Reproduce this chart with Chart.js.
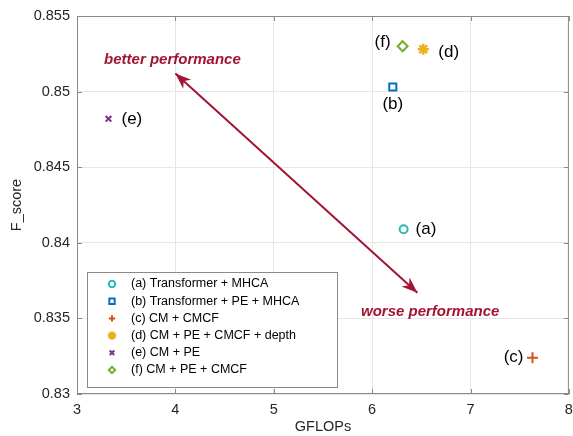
<!DOCTYPE html>
<html>
<head>
<meta charset="utf-8">
<script src="https://cdn.jsdelivr.net/npm/chart.js@4"></script>
<style>
  html, body { margin: 0; padding: 0; background: #fff; overflow: hidden; }
  #wrap { width: 577px; height: 436px; }
</style>
</head>
<body>
<div id="wrap"><canvas id="grafico"></canvas></div>
<script>
// data
const tags = ['(a)', '(b)', '(c)', '(d)', '(e)', '(f)'];
const names = [
  '(a) Transformer + MHCA',
  '(b) Transformer + PE + MHCA',
  '(c) CM + CMCF',
  '(d) CM + PE + CMCF + depth',
  '(e) CM + PE',
  '(f) CM + PE + CMCF'
];
const gflops = [6.32, 6.21, 7.63, 6.52, 3.32, 6.31];
const fscore = [0.8409, 0.8503, 0.8324, 0.8528, 0.8482, 0.8530];
const xTicks = [3, 4, 5, 6, 7, 8];
const yTicks = [0.83, 0.835, 0.84, 0.845, 0.85, 0.855];

const colors = ['#2bbab2', '#0072BD', '#D95319', '#EDB120', '#7E2F8E', '#77AC30'];
const styles = ['circle', 'rect', 'cross', 'star', 'crossRot', 'rectRot'];
const sizes = [4, 5, 5.5, 5.5, 4, 5];
const FONT = '"Liberation Sans", Arial, Helvetica, sans-serif';
const RED = '#A2142F';

// label placement next to each point: [dx, dy, align]
const tagPos = [[12, 0, 'left'], [0, 17, 'center'], [-9, 0, 'right'], [15, 3, 'left'], [13, 0, 'left'], [-12, -4, 'right']];

const extras = {
  id: 'extras',
  afterDatasetsDraw(chart) {
    const ctx = chart.ctx;
    const a = chart.chartArea;
    const xs = chart.scales.x, ys = chart.scales.y;
    ctx.save();
    // box + inward ticks
    ctx.strokeStyle = '#8a8a8a';
    ctx.lineWidth = 1;
    ctx.strokeRect(a.left + 0.5, a.top + 0.5, a.right - a.left - 1, a.bottom - a.top - 1);
    ctx.beginPath();
    xTicks.forEach(v => {
      const p = Math.round(xs.getPixelForValue(v)) + 0.5;
      ctx.moveTo(p, a.bottom); ctx.lineTo(p, a.bottom - 5);
      ctx.moveTo(p, a.top); ctx.lineTo(p, a.top + 5);
    });
    yTicks.forEach(v => {
      const p = Math.round(ys.getPixelForValue(v)) + 0.5;
      ctx.moveTo(a.left, p); ctx.lineTo(a.left + 5, p);
      ctx.moveTo(a.right, p); ctx.lineTo(a.right - 5, p);
    });
    ctx.stroke();

    // point labels
    ctx.fillStyle = '#000';
    ctx.font = '17px ' + FONT;
    ctx.textBaseline = 'middle';
    tags.forEach((t, i) => {
      const px = xs.getPixelForValue(gflops[i]);
      const py = ys.getPixelForValue(fscore[i]);
      ctx.textAlign = tagPos[i][2];
      ctx.fillText(t, px + tagPos[i][0], py + tagPos[i][1]);
    });

    // double arrow
    const x1 = xs.getPixelForValue(4.0), y1 = ys.getPixelForValue(0.8512);
    const x2 = xs.getPixelForValue(6.46), y2 = ys.getPixelForValue(0.8367);
    ctx.strokeStyle = RED;
    ctx.fillStyle = RED;
    ctx.lineWidth = 2;
    ctx.beginPath(); ctx.moveTo(x1, y1); ctx.lineTo(x2, y2); ctx.stroke();
    function head(tx, ty, fx, fy) {
      const ang = Math.atan2(ty - fy, tx - fx);
      const L = 16, W = 6;
      ctx.save();
      ctx.translate(tx, ty); ctx.rotate(ang);
      ctx.beginPath();
      ctx.moveTo(0, 0);
      ctx.lineTo(-L, -W);
      ctx.lineTo(-L * 0.7, 0);
      ctx.lineTo(-L, W);
      ctx.closePath();
      ctx.fill();
      ctx.restore();
    }
    head(x1, y1, x2, y2);
    head(x2, y2, x1, y1);

    ctx.font = 'bold italic 15px ' + FONT;
    ctx.textAlign = 'center';
    ctx.fillText('better performance', xs.getPixelForValue(3.97), ys.getPixelForValue(0.8521));
    ctx.fillText('worse performance', xs.getPixelForValue(6.59), ys.getPixelForValue(0.8354));
    ctx.restore();
  }
};

// legend box inside the axes, lower left
const legendBox = {
  id: 'legendBox',
  afterDraw(chart) {
    const ctx = chart.ctx;
    const a = chart.chartArea;
    const lx = a.left + 10, lw = 250, rowH = 17.2, lh = 115, ly = a.bottom - 7 - lh;
    ctx.save();
    ctx.fillStyle = '#fff';
    ctx.fillRect(lx, ly, lw, lh);
    ctx.strokeStyle = '#8a8a8a';
    ctx.lineWidth = 1;
    ctx.strokeRect(lx + 0.5, ly + 0.5, lw, lh);
    ctx.font = '12.5px ' + FONT;
    ctx.textBaseline = 'middle';
    ctx.textAlign = 'left';
    chart.data.datasets.forEach((ds, i) => {
      const cy = ly + 12 + i * rowH;
      ctx.strokeStyle = ds.borderColor;
      ctx.fillStyle = i === 3 ? ds.borderColor : '#fff';
      ctx.lineWidth = 2;
      Chart.helpers.drawPoint(ctx, {
        pointStyle: i === 3 ? 'circle' : ds.pointStyle,
        radius: i === 1 ? 3.8 : 3.2,
        borderWidth: 2
      }, lx + 25, cy);
      ctx.fillStyle = '#000';
      ctx.fillText(names[i], lx + 44, cy);
    });
    ctx.restore();
  }
};

new Chart(document.getElementById('grafico'), {
  type: 'scatter',
  data: {
    datasets: names.map((n, i) => ({
      label: n,
      data: [{ x: gflops[i], y: fscore[i] }],
      pointStyle: styles[i],
      pointRadius: sizes[i],
      pointBorderWidth: i === 3 ? 2.6 : 2,
      borderColor: colors[i],
      backgroundColor: '#fff',
      pointHoverRadius: sizes[i]
    }))
  },
  options: {
    responsive: true,
    maintainAspectRatio: false,
    animation: false,
    layout: { padding: { top: 16, right: 0, left: 0, bottom: 0 } },
    plugins: {
      legend: { display: false },
      tooltip: { enabled: false }
    },
    scales: {
      x: {
        type: 'linear',
        min: 3, max: 8,
        afterBuildTicks: s => { s.ticks = xTicks.map(v => ({ value: v })); },
        afterFit: s => { s.height = 42; s.paddingLeft = 0; s.paddingRight = 0; },
        grid: { color: '#e6e6e6', drawTicks: false },
        border: { display: false },
        ticks: { color: '#262626', font: { family: FONT, size: 14.5 }, padding: 7 },
        title: { display: true, text: 'GFLOPs', color: '#262626', font: { family: FONT, size: 14.5 }, padding: 0 }
      },
      y: {
        type: 'linear',
        min: 0.83, max: 0.855,
        afterBuildTicks: s => { s.ticks = yTicks.map(v => ({ value: v })); },
        afterFit: s => { s.width = 77; },
        grid: { color: '#e6e6e6', drawTicks: false },
        border: { display: false },
        ticks: {
          color: '#262626', font: { family: FONT, size: 14.5 }, padding: 7,
          callback: v => String(Number(v.toFixed(3)))
        },
        title: { display: true, text: 'F_score', color: '#262626', font: { family: FONT, size: 14.5 }, padding: { top: 8, bottom: 0 } }
      }
    }
  },
  plugins: [extras, legendBox]
});
</script>
</body>
</html>
